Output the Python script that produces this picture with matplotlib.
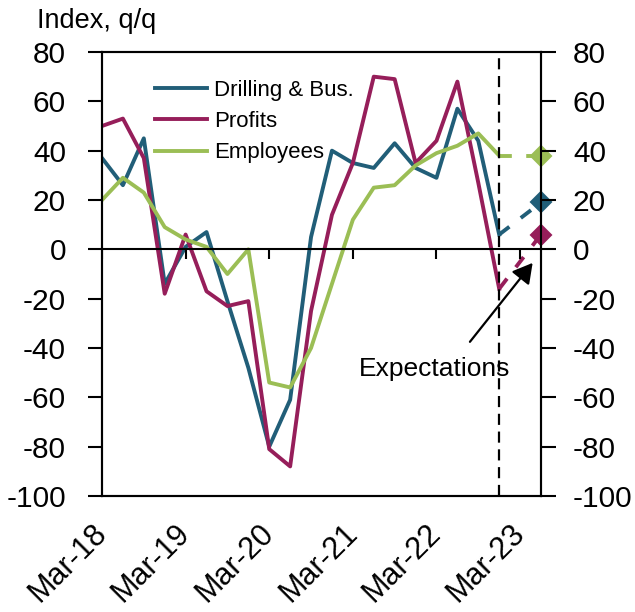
import matplotlib.pyplot as plt
import numpy as np

plt.rcParams['font.family'] = ['Liberation Sans', 'DejaVu Sans']
plt.rcParams['axes.unicode_minus'] = False

# quarterly index, Mar-18 .. Dec-22
tick_labels = ['Mar-18', 'Mar-19', 'Mar-20', 'Mar-21', 'Mar-22', 'Mar-23']
drilling = [37, 26, 45, -14, 1, 7, -21, -48, -80, -61, 5, 40, 35, 33, 43, 33, 29, 57, 44, 6]
profits = [50, 53, 37, -18, 6, -17, -23, -21, -81, -88, -25, 14, 35, 70, 69, 35, 44, 68, 27, -16]
employees = [20, 29, 23, 9, 4, 1, -10, 0, -54, -56, -40, -14, 12, 25, 26, 34, 39, 42, 47, 38]
# expectations for Jun-23
exp_drilling = 19
exp_profits = 6
exp_employees = 38

c_dr = '#215e78'
c_pr = '#961e5a'
c_em = '#9bbe55'

x = np.arange(len(drilling))
x_exp = [x[-1], x[-1] + 2]
xt = np.arange(0, 21, 4)

fig = plt.figure(figsize=(6.35, 6.12), dpi=100)
ax = fig.add_axes([102/635, 1-496/612, 439/635, 444/612])

lw = 2.8
ax.plot(x, drilling, color=c_dr, lw=lw, label='Drilling & Bus.')
ax.plot(x, profits, color=c_pr, lw=lw, label='Profits')
ax.plot(x, employees, color=c_em, lw=lw, label='Employees')

for vals, ex, col in [(drilling, exp_drilling, c_dr), (profits, exp_profits, c_pr),
                      (employees, exp_employees, c_em)]:
    ax.plot(x_exp, [vals[-1], ex], color=col, lw=lw, dashes=(3.3, 3.7))
    ax.plot(x_exp[1], ex, marker='D', ms=10.5, color=col, mew=1.5, clip_on=False, zorder=5)

ax.axvline(x[-1], color='black', lw=1.6, dashes=(5, 3))
ax.axhline(0, color='black', lw=1.5)
ax.vlines(xt, -4, 0, color='black', lw=1.5)

ax.set_xlim(0, 21)
ax.set_ylim(-100, 80)
ax.set_xticks(xt, tick_labels)
ax.set_yticks(range(-100, 81, 20))
ax.tick_params(axis='x', length=0, pad=24, labelsize=22)
plt.setp(ax.get_xticklabels(), rotation=45, ha='right', va='center', rotation_mode='anchor')
ax.tick_params(axis='y', direction='out', length=10, width=1.5, pad=16, labelsize=21.5)
for s in ax.spines.values():
    s.set_linewidth(1.5)

ax2 = ax.twinx()
ax2.set_ylim(-100, 80)
ax2.set_yticks(range(-100, 81, 20))
ax2.tick_params(axis='y', direction='out', length=11, width=1.5, pad=12, labelsize=21.5)
for s in ax2.spines.values():
    s.set_linewidth(1.5)

ax.legend(loc='upper left', bbox_to_anchor=(0.121, 0.938), frameon=False, fontsize=16,
          handlelength=2.35, handletextpad=0.32, labelspacing=0.47, borderpad=0, borderaxespad=0)

ax.text(15.9, -48.5, 'Expectations', fontsize=19, ha='center', va='center')
ax.annotate('', xy=(20.6, -5.5), xytext=(17.6, -37.5),
            arrowprops=dict(arrowstyle='-|>,head_length=0.8,head_width=0.45', color='black',
                            lw=1.6, mutation_scale=15, shrinkA=0, shrinkB=0))

fig.text(37/635, 1-28/612, 'Index, q/q', fontsize=19.5, va='baseline')

fig.savefig('out.png', dpi=100)
